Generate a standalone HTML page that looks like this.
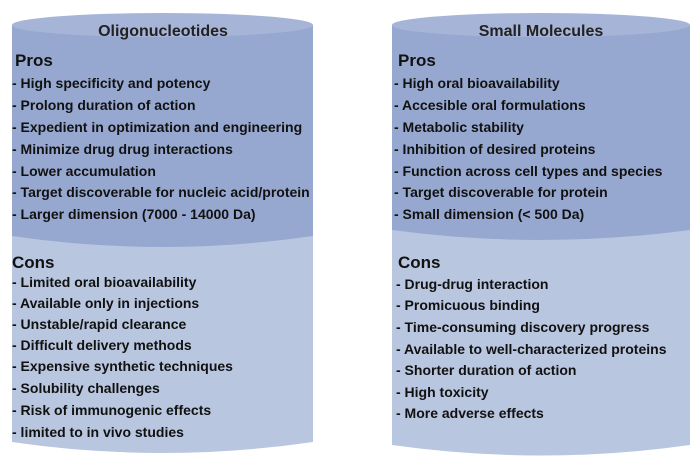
<!DOCTYPE html>
<html><head><meta charset="utf-8"><style>
html,body{margin:0;padding:0;background:#fff;}
svg{display:block;}
text{font-family:"Liberation Sans",Arial,sans-serif;font-weight:bold;fill:#111;}
.h{font-size:16px;fill:#222;}
.s{font-size:17px;}
.i{font-size:14px;}
</style></head><body>
<svg width="700" height="460" viewBox="0 0 700 460" xmlns="http://www.w3.org/2000/svg">
<!-- left cylinder -->
<path d="M12 236 L12 442 Q162 464 313 442 L313 236 Z" fill="#b9c6df"/>
<path d="M12 25 L12 236 Q162 258 313 236 L313 25 Z" fill="#97a8d0"/>
<ellipse cx="162.5" cy="25" rx="150.5" ry="12" fill="#a6b4d8"/>
<!-- right cylinder -->
<path d="M392 230 L392 445 Q541 466 690 445 L690 230 Z" fill="#b9c6df"/>
<path d="M392 25 L392 230 Q541 250 690 230 L690 25 Z" fill="#97a8d0"/>
<ellipse cx="541" cy="25" rx="149" ry="12" fill="#a6b4d8"/>

<text class="h" x="163" y="36" text-anchor="middle">Oligonucleotides</text>
<text class="s" x="15" y="66">Pros</text>
<g class="i">
<text class="i" x="12" y="88">- High specificity and potency</text>
<text class="i" x="12" y="110">- Prolong duration of action</text>
<text class="i" x="12" y="132">- Expedient in optimization and engineering</text>
<text class="i" x="12" y="154">- Minimize drug drug interactions</text>
<text class="i" x="12" y="176">- Lower accumulation</text>
<text class="i" x="12" y="197">- Target discoverable for nucleic acid/protein</text>
<text class="i" x="12" y="219">- Larger dimension (7000 - 14000 Da)</text>
</g>
<text class="s" x="12" y="268">Cons</text>
<text class="i" x="12" y="287">- Limited oral bioavailability</text>
<text class="i" x="12" y="308">- Available only in injections</text>
<text class="i" x="12" y="329">- Unstable/rapid clearance</text>
<text class="i" x="12" y="350">- Difficult delivery methods</text>
<text class="i" x="12" y="371">- Expensive synthetic techniques</text>
<text class="i" x="12" y="393">- Solubility challenges</text>
<text class="i" x="12" y="415">- Risk of immunogenic effects</text>
<text class="i" x="12" y="437">- limited to in vivo studies</text>

<text class="h" x="541" y="36" text-anchor="middle">Small Molecules</text>
<text class="s" x="398" y="66">Pros</text>
<text class="i" x="394" y="88">- High oral bioavailability</text>
<text class="i" x="394" y="110">- Accesible oral formulations</text>
<text class="i" x="394" y="132">- Metabolic stability</text>
<text class="i" x="394" y="154">- Inhibition of desired proteins</text>
<text class="i" x="394" y="176">- Function across cell types and species</text>
<text class="i" x="394" y="197">- Target discoverable for protein</text>
<text class="i" x="394" y="219">- Small dimension (&lt; 500 Da)</text>
<text class="s" x="398" y="268">Cons</text>
<text class="i" x="396" y="289">- Drug-drug interaction</text>
<text class="i" x="396" y="310">- Promicuous binding</text>
<text class="i" x="396" y="332">- Time-consuming discovery progress</text>
<text class="i" x="396" y="354">- Available to well-characterized proteins</text>
<text class="i" x="396" y="375">- Shorter duration of action</text>
<text class="i" x="396" y="397">- High toxicity</text>
<text class="i" x="396" y="418">- More adverse effects</text>
</svg>
</body></html>
